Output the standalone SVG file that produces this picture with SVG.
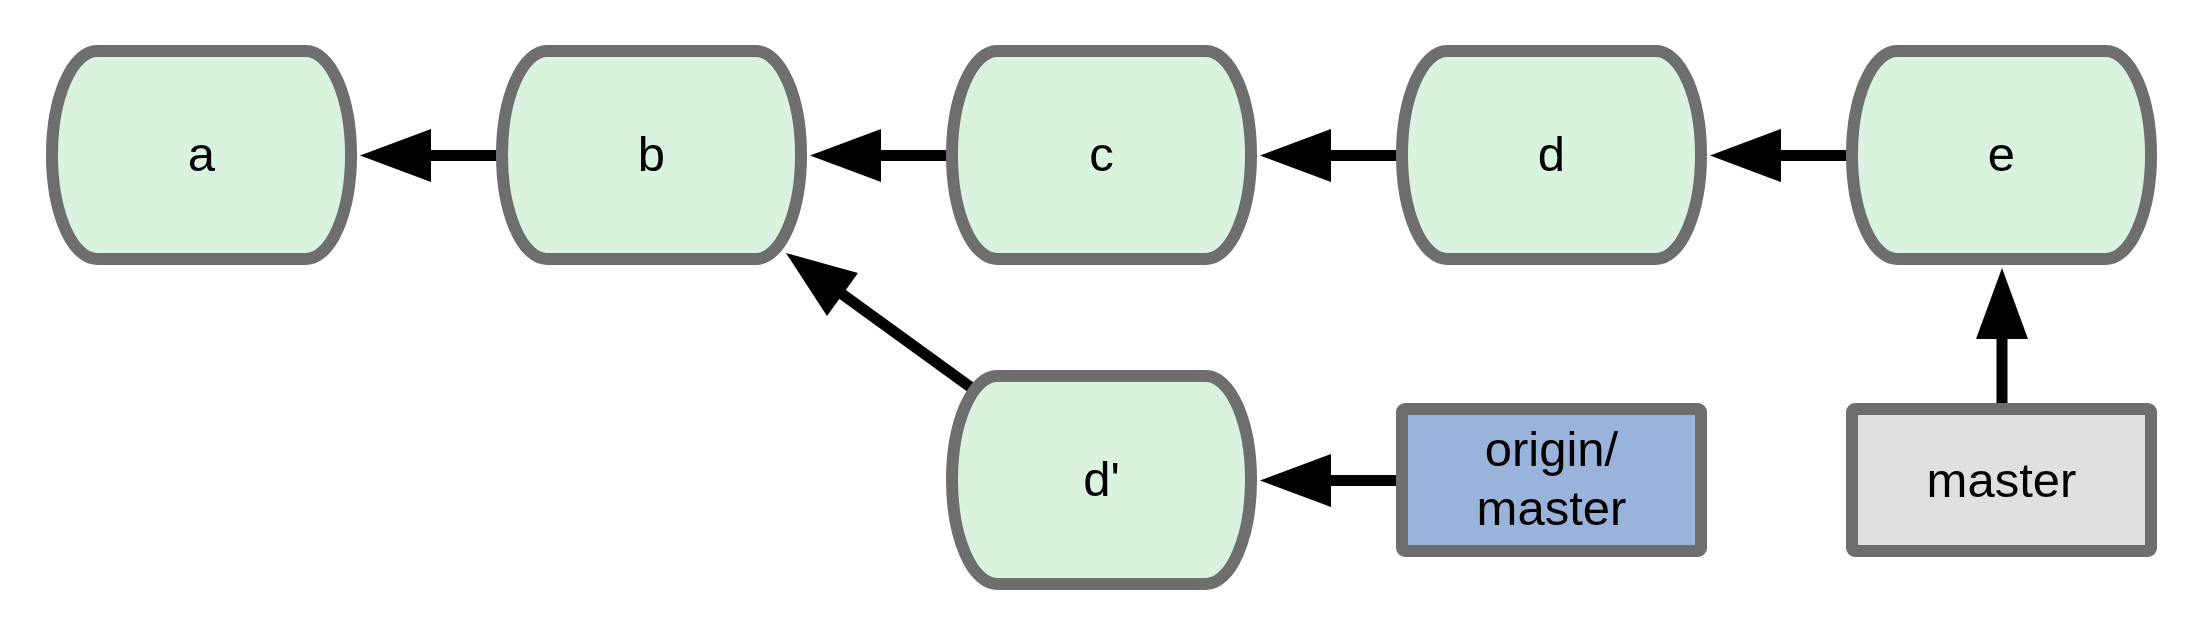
<svg xmlns="http://www.w3.org/2000/svg" xmlns:xlink="http://www.w3.org/1999/xlink" width="2204" height="633" viewBox="0 0 2204 633">
<style>
.commit{fill:#d9f3de;stroke:#6e6e6e;stroke-width:12}
.ref{stroke:#6e6e6e;stroke-width:12}
.remote{fill:#99b3da}
.local{fill:#e0e0e0}
.lbl{font-family:"Liberation Sans",Arial,Helvetica,sans-serif;font-size:49px;fill:#000;text-anchor:middle}
.line{stroke:#000;stroke-width:11;fill:none}
.head{fill:#000}
</style>
<defs>
<path id="commitShape" d="M45,0 H254 A45,104 0 0 1 254,208 H45 A45,104 0 0 1 45,0 Z"/>
</defs>
<g id="connectors">
<line class="line" x1="431" y1="155.5" x2="505" y2="155.5"/>
<polygon class="head" points="360,155.5 431,129 431,182"/>
<line class="line" x1="881" y1="155.5" x2="955" y2="155.5"/>
<polygon class="head" points="810,155.5 881,129 881,182"/>
<line class="line" x1="1331" y1="155.5" x2="1405" y2="155.5"/>
<polygon class="head" points="1260,155.5 1331,129 1331,182"/>
<line class="line" x1="1781" y1="155.5" x2="1855" y2="155.5"/>
<polygon class="head" points="1710,155.5 1781,129 1781,182"/>
<line class="line" x1="1331" y1="480.5" x2="1405" y2="480.5"/>
<polygon class="head" points="1260,480.5 1331,454 1331,507"/>
<line class="line" x1="2002" y1="339" x2="2002" y2="410"/>
<polygon class="head" points="2002,268 1976,339 2028,339"/>
<line class="line" x1="842" y1="294" x2="980" y2="394"/>
<polygon class="head" points="786,253 858,273 827,316"/>
</g>
<g id="node-a">
<use xlink:href="#commitShape" href="#commitShape" x="52" y="51" class="commit"/>
<text class="lbl" x="201.5" y="171">a</text>
</g>
<g id="node-b">
<use xlink:href="#commitShape" href="#commitShape" x="502" y="51" class="commit"/>
<text class="lbl" x="651.5" y="171">b</text>
</g>
<g id="node-c">
<use xlink:href="#commitShape" href="#commitShape" x="952" y="51" class="commit"/>
<text class="lbl" x="1101.5" y="171">c</text>
</g>
<g id="node-d">
<use xlink:href="#commitShape" href="#commitShape" x="1402" y="51" class="commit"/>
<text class="lbl" x="1551.5" y="171">d</text>
</g>
<g id="node-e">
<use xlink:href="#commitShape" href="#commitShape" x="1852" y="51" class="commit"/>
<text class="lbl" x="2001.5" y="171">e</text>
</g>
<g id="node-dprime">
<use xlink:href="#commitShape" href="#commitShape" x="952" y="376" class="commit"/>
<text class="lbl" x="1101.5" y="496">d'</text>
</g>
<g id="node-origin-master">
<rect class="ref remote" x="1402" y="409" width="299" height="142" rx="3"/>
<text class="lbl" x="1551.5" y="466">origin/</text>
<text class="lbl" x="1551.5" y="525">master</text>
</g>
<g id="node-master">
<rect class="ref local" x="1852" y="409" width="299" height="142" rx="3"/>
<text class="lbl" x="2001.5" y="497">master</text>
</g>
</svg>
